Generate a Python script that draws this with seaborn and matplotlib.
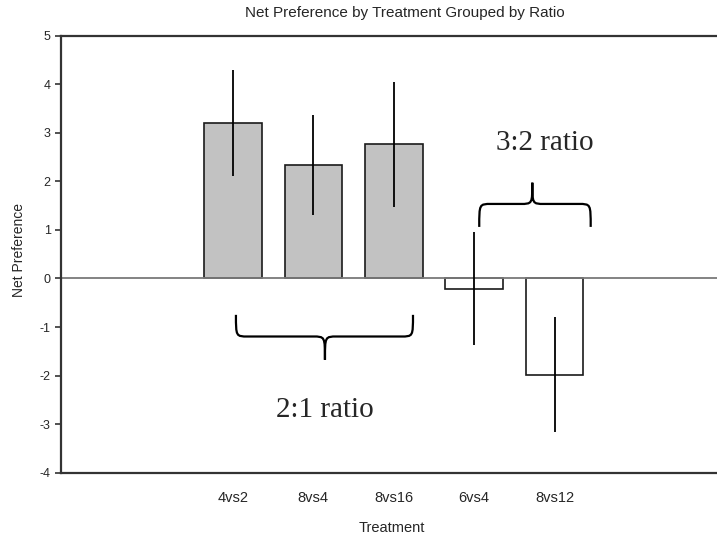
import matplotlib
matplotlib.use("Agg")
import matplotlib.pyplot as plt
from matplotlib.path import Path
from matplotlib.patches import PathPatch
import seaborn as sns
import pandas as pd

# ---- data ----
treatments = ["4vs2", "8vs4", "8vs16", "6vs4", "8vs12"]
net_pref = [3.20, 2.34, 2.76, -0.21, -1.98]
err = [1.09, 1.03, 1.28, 1.17, 1.18]
ratio_group = ["2:1", "2:1", "2:1", "3:2", "3:2"]
y_ticks = [-4, -3, -2, -1, 0, 1, 2, 3, 4, 5]

sns.set_style("white")
plt.rcParams["font.family"] = ["Liberation Sans", "DejaVu Sans"]

df = pd.DataFrame({"Treatment": treatments, "Net": net_pref, "Group": ratio_group})

fig = plt.figure(figsize=(7.17, 5.38), dpi=100)
ax = fig.add_axes([60.5 / 717, 1 - 472.7 / 538, 1 - 60.5 / 717, (472.7 - 35.7) / 538])

sns.barplot(data=df, x="Treatment", y="Net", hue="Group",
            palette={"2:1": "#c2c2c2", "3:2": "white"}, dodge=False,
            width=0.715, edgecolor="#1a1a1a", linewidth=1.2, legend=False,
            errorbar=None, ax=ax)
ax.errorbar(range(len(treatments)), net_pref, yerr=err, fmt="none",
            ecolor="black", elinewidth=1.3, capsize=0, zorder=5)

ax.axhline(0, color="#7a7a7a", lw=1.3, zorder=1)

ax.set_xlim(-2.145, 6.02)
ax.set_ylim(-4, 5)
ax.set_yticks(y_ticks)
ax.set_yticklabels([str(t) for t in y_ticks], fontsize=9)
ax.tick_params(axis="y", direction="out", length=4, width=1.2, color="#333333", pad=3, left=True)
ax.tick_params(axis="x", length=0, pad=13.5, labelsize=10.5)

for side in ["left", "top", "bottom"]:
    ax.spines[side].set_visible(True)
    ax.spines[side].set_color("#333333")
    ax.spines[side].set_linewidth(1.6)
ax.spines["right"].set_visible(False)

ax.set_xlabel("Treatment", fontsize=10.5)
ax.set_ylabel("Net Preference", fontsize=10)
# place axis labels at the reference pixel positions
ax.xaxis.set_label_coords((392 - 60.5) / (717 - 60.5), -(528 - 472.7) / (472.7 - 35.7))
ax.xaxis.label.set_va("center")
ax.yaxis.set_label_coords(-(60.5 - 19) / (717 - 60.5), (472.7 - 250) / (472.7 - 35.7))
ax.yaxis.label.set_va("center")

fig.text(405 / 717, 1 - 13 / 538, "Net Preference by Treatment Grouped by Ratio",
         ha="center", va="center", fontsize=11)


def brace(ax, left, right, center, y_end, y_h, y_tip, r=0.15):
    verts = [
        (left, y_end),
        (left, y_h), (left, y_h), (left + r, y_h),
        (center - r, y_h),
        (center, y_h), (center, y_h), (center, y_tip),
        (center, y_h), (center, y_h), (center + r, y_h),
        (right - r, y_h),
        (right, y_h), (right, y_h), (right, y_end),
    ]
    codes = [Path.MOVETO,
             Path.CURVE4, Path.CURVE4, Path.CURVE4,
             Path.LINETO,
             Path.CURVE4, Path.CURVE4, Path.CURVE4,
             Path.CURVE4, Path.CURVE4, Path.CURVE4,
             Path.LINETO,
             Path.CURVE4, Path.CURVE4, Path.CURVE4]
    ax.add_patch(PathPatch(Path(verts, codes), fill=False, lw=1.6,
                           edgecolor="black", zorder=6))


brace(ax, 0.037, 2.239, 1.144, -0.749, -1.195, -1.675)
brace(ax, 3.063, 4.449, 3.723, 1.062, 1.535, 1.973)

serif = ["Liberation Serif", "DejaVu Serif"]
ax.text(1.144, -2.70, "2:1 ratio", ha="center", va="center", fontsize=21, family=serif)
ax.text(3.88, 2.79, "3:2 ratio", ha="center", va="center", fontsize=21, family=serif)

fig.savefig("out.png", dpi=100)
